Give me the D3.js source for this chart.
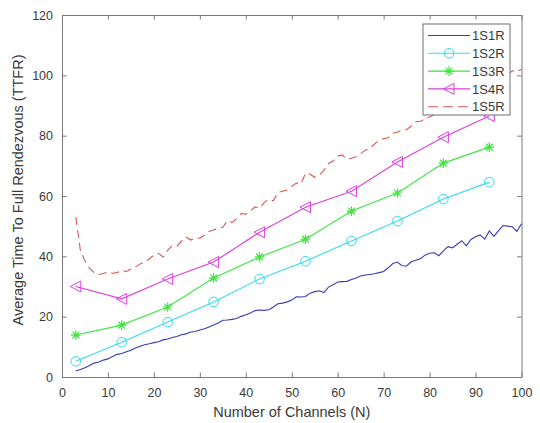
<!DOCTYPE html>
<html>
<head>
<meta charset="utf-8">
<script src="https://cdn.jsdelivr.net/npm/d3@7"></script>
<style>
  html, body { margin: 0; padding: 0; background: #fff; }
  svg { display: block; font-family: "Liberation Sans", Arial, sans-serif; }
</style>
</head>
<body>
<svg id="chart" width="540" height="423"></svg>
<script>
// ---- data ----
const denseChannels = d3.range(3, 101); // 3..100
const sparseChannels = [3, 13, 23, 33, 43, 53, 63, 73, 83, 93];

const s1S1R = [2.0, 2.5, 3.1, 3.8, 4.6, 5.0, 5.6, 6.0, 6.8, 7.5, 7.8, 8.4, 8.9, 9.6, 10.2, 10.7, 11.0, 11.4, 11.7, 12.3,
  12.6, 13.1, 13.4, 14.0, 14.3, 14.9, 15.1, 15.6, 16.0, 16.6, 17.2, 17.9, 18.8, 18.9, 19.1, 19.4, 20.1, 20.6, 21.2, 22.0,
  22.2, 22.1, 22.3, 23.2, 24.3, 24.5, 24.9, 25.5, 26.6, 26.5, 26.7, 27.8, 28.3, 28.6, 28.0, 29.8, 30.6, 31.5, 31.6, 31.7,
  32.3, 32.8, 33.5, 33.8, 34.0, 34.2, 34.6, 35.0, 36.2, 37.6, 38.1, 36.9, 36.8, 38.2, 38.7, 39.2, 40.4, 41.0, 41.2, 40.2,
  41.8, 43.2, 42.8, 44.0, 45.2, 43.5, 45.6, 46.5, 47.1, 45.7, 48.4, 46.6, 48.5, 50.2, 50.0, 49.8, 48.3, 50.8];
const s1S2R = [5.2, 11.5, 18.2, 24.9, 32.5, 38.4, 45.1, 51.7, 59.0, 64.6];
const s1S3R = [13.9, 17.2, 23.2, 32.8, 39.8, 45.7, 55.0, 61.0, 70.9, 76.2];
const s1S4R = [30.0, 25.9, 32.5, 38.1, 48.0, 56.3, 61.6, 71.3, 79.5, 86.5];
const s1S5R = [53.0, 42.0, 38.5, 36.0, 34.6, 34.0, 34.3, 34.8, 34.4, 34.6, 35.3, 35.0, 35.8, 36.5, 37.5, 38.0, 39.2, 40.4, 41.0, 39.8,
  42.0, 43.6, 43.4, 45.0, 46.4, 45.4, 46.1, 46.0, 47.0, 48.2, 48.7, 49.3, 49.6, 51.8, 51.2, 52.5, 54.2, 54.0, 55.0, 56.4,
  56.0, 57.8, 58.9, 58.4, 61.2, 61.6, 62.0, 63.2, 64.3, 64.0, 67.6, 67.2, 66.2, 67.0, 68.5, 70.8, 71.6, 73.2, 73.6, 72.2,
  72.5, 73.0, 74.0, 75.2, 75.8, 77.2, 78.6, 79.0, 79.3, 80.8, 81.2, 81.9, 82.0, 83.2, 84.6, 84.8, 85.5, 86.2, 87.0, 87.8,
  88.5, 89.2, 90.0, 90.8, 91.6, 92.3, 93.0, 93.8, 94.5, 95.3, 96.0, 96.8, 97.6, 99.0, 100.2, 101.5, 101.2, 102.0];

const seriesNames = ["1S1R", "1S2R", "1S3R", "1S4R", "1S5R"];
const xTicks = [0, 10, 20, 30, 40, 50, 60, 70, 80, 90, 100];
const yTicks = [0, 20, 40, 60, 80, 100, 120];
const xLabel = "Number of Channels (N)";
const yLabel = "Average Time To Full Rendezvous (TTFR)";

// ---- layout ----
const svg = d3.select("#chart");
const L = 62, R = 521.5, T = 15, B = 377;
const x = d3.scaleLinear().domain([0, 100]).range([L, R]);
const y = d3.scaleLinear().domain([0, 120]).range([B, T]);

const axisColor = "#7a7a7a";
const textColor = "#3a3a3a";

const series = [
  { name: seriesNames[0], xs: denseChannels, ys: s1S1R, color: "#3a3ab6", marker: null, dash: null },
  { name: seriesNames[1], xs: sparseChannels, ys: s1S2R, color: "#35dcec", marker: "circle", dash: null },
  { name: seriesNames[2], xs: sparseChannels, ys: s1S3R, color: "#3ee63e", marker: "star", dash: null },
  { name: seriesNames[3], xs: sparseChannels, ys: s1S4R, color: "#dd3fdd", marker: "tri", dash: null },
  { name: seriesNames[4], xs: denseChannels, ys: s1S5R, color: "#d45858", marker: null, dash: "8,5" }
];

function drawMarker(g, type, cx, cy, color) {
  if (type === "circle") {
    g.append("circle").attr("cx", cx).attr("cy", cy).attr("r", 4.8)
      .attr("fill", "none").attr("stroke", color).attr("stroke-width", 1);
  } else if (type === "star") {
    const s = 4.8, d = 3.4;
    const p = `M${cx - s},${cy}L${cx + s},${cy}M${cx},${cy - s}L${cx},${cy + s}` +
      `M${cx - d},${cy - d}L${cx + d},${cy + d}M${cx - d},${cy + d}L${cx + d},${cy - d}`;
    g.append("path").attr("d", p).attr("stroke", color).attr("stroke-width", 1.2).attr("fill", "none");
  } else if (type === "tri") {
    const p = `M${cx - 5.5},${cy}L${cx + 5},${cy - 5.5}L${cx + 5},${cy + 5.5}Z`;
    g.append("path").attr("d", p).attr("stroke", color).attr("stroke-width", 1).attr("fill", "none");
  }
}

// ---- axes ----
const fmt = d3.format("d");
svg.append("g").attr("transform", `translate(0,${B})`)
  .call(d3.axisBottom(x).tickValues(xTicks).tickFormat(fmt).tickSizeInner(-4.5).tickSizeOuter(0).tickPadding(11))
  .call(g => {
    g.select(".domain").attr("stroke", axisColor);
    g.selectAll(".tick line").attr("stroke", axisColor);
    g.selectAll("text").attr("fill", textColor).attr("font-size", 12.5).attr("font-family", "Liberation Sans, Arial, sans-serif");
  });
svg.append("g").attr("transform", `translate(0,${T})`)
  .call(d3.axisTop(x).tickValues(xTicks).tickFormat("").tickSizeInner(-4.5).tickSizeOuter(0))
  .call(g => {
    g.select(".domain").attr("stroke", axisColor);
    g.selectAll(".tick line").attr("stroke", axisColor);
  });
svg.append("g").attr("transform", `translate(${L},0)`)
  .call(d3.axisLeft(y).tickValues(yTicks).tickFormat(fmt).tickSizeInner(-4.5).tickSizeOuter(0).tickPadding(9))
  .call(g => {
    g.select(".domain").attr("stroke", axisColor);
    g.selectAll(".tick line").attr("stroke", axisColor);
    g.selectAll("text").attr("fill", textColor).attr("font-size", 12.5).attr("font-family", "Liberation Sans, Arial, sans-serif");
  });
svg.append("g").attr("transform", `translate(${R},0)`)
  .call(d3.axisRight(y).tickValues(yTicks).tickFormat("").tickSizeInner(-4.5).tickSizeOuter(0))
  .call(g => {
    g.select(".domain").attr("stroke", axisColor);
    g.selectAll(".tick line").attr("stroke", axisColor);
  });

// axis labels
svg.append("text").attr("x", (L + R) / 2).attr("y", 417).attr("text-anchor", "middle")
  .attr("font-size", 14.5).attr("fill", textColor).text(xLabel);
svg.append("text").attr("transform", `translate(23,${(T + B) / 2 - 6}) rotate(-90)`).attr("text-anchor", "middle")
  .attr("font-size", 14.5).attr("fill", textColor).text(yLabel);

// ---- series ----
const plot = svg.append("g");
series.forEach(s => {
  const line = d3.line().x((d, i) => x(s.xs[i])).y(d => y(d));
  const path = plot.append("path").datum(s.ys).attr("d", line)
    .attr("fill", "none").attr("stroke", s.color).attr("stroke-width", 1.1);
  if (s.dash) path.attr("stroke-dasharray", s.dash);
  if (s.marker) {
    s.ys.forEach((v, i) => drawMarker(plot, s.marker, x(s.xs[i]), y(v), s.color));
  }
});

// ---- legend ----
const lg = svg.append("g");
const lx = 423, ly = 24, lw = 87, lh = 91;
lg.append("rect").attr("x", lx).attr("y", ly).attr("width", lw).attr("height", lh)
  .attr("fill", "#fff").attr("stroke", "#6e6e6e").attr("stroke-width", 1);
series.forEach((s, i) => {
  const yy = ly + 11.5 + i * 17.8;
  const ln = lg.append("line").attr("x1", lx + 5).attr("x2", lx + 47).attr("y1", yy).attr("y2", yy)
    .attr("stroke", s.color).attr("stroke-width", 1.1);
  if (s.dash) ln.attr("stroke-dasharray", "10,5");
  if (s.marker) drawMarker(lg, s.marker, lx + 26, yy, s.color);
  lg.append("text").attr("x", lx + 49).attr("y", yy + 4.6).attr("font-size", 13)
    .attr("fill", textColor).text(s.name);
});
</script>
</body>
</html>
